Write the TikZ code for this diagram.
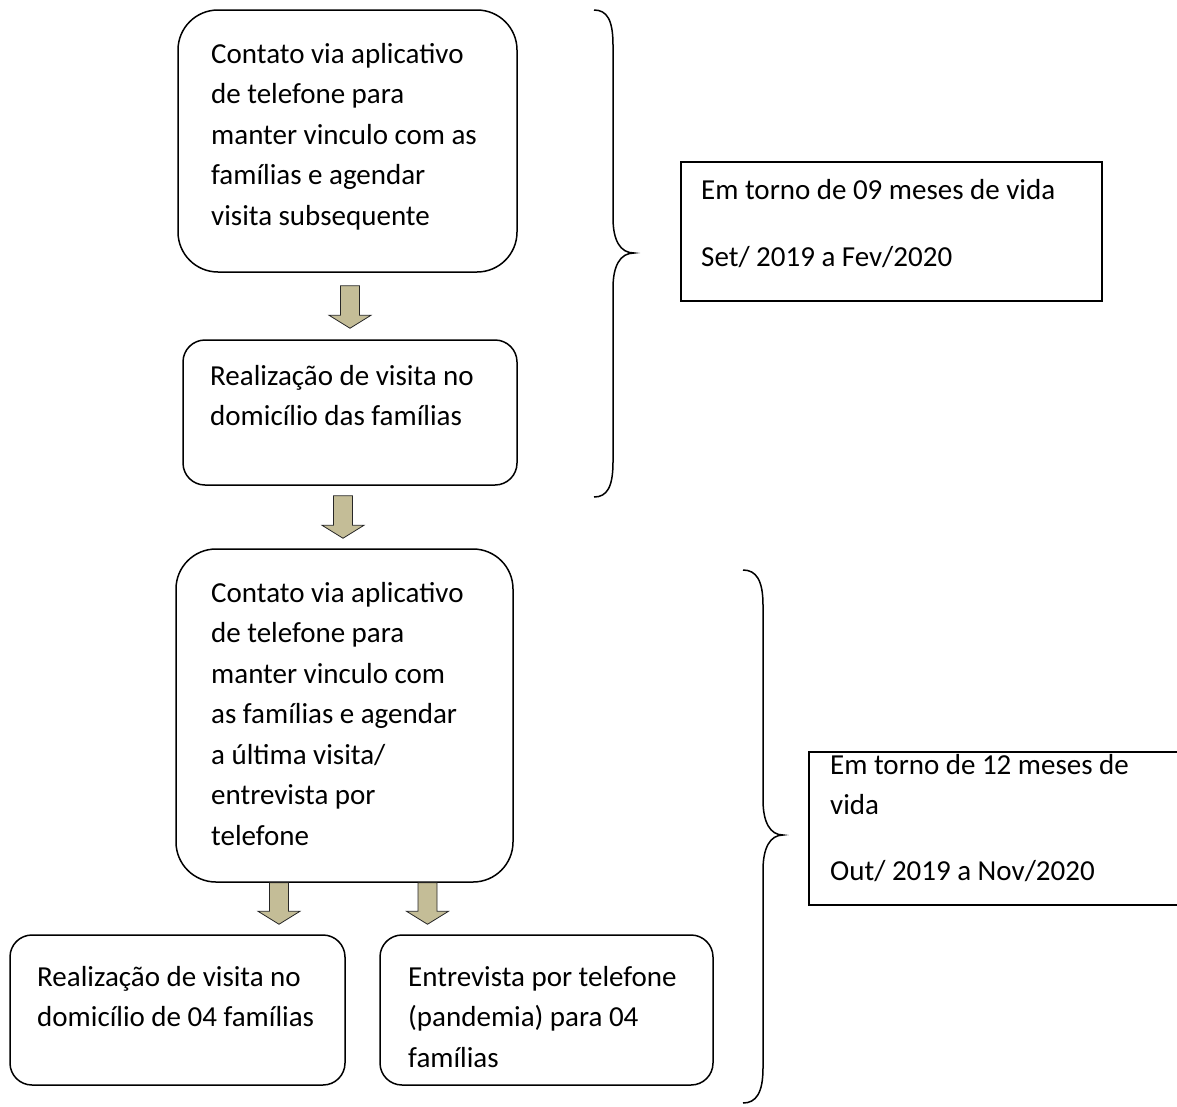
\documentclass[tikz,border=0pt]{standalone}
\usepackage{fontspec}
\setmainfont{Carlito}
\usetikzlibrary{calc}
\definecolor{arrowtan}{HTML}{C4BD97}
% fixed word spaces so the lines are never stretched
\newcommand\rigidspaces{\spaceskip=6.5pt\relax\xspaceskip=6.5pt\relax}
\tikzset{
  flowbox/.style={draw=black, line width=1.5pt, rounded corners=#1, inner sep=0pt},
  framebox/.style={draw=black, line width=1.5pt, inner sep=0pt},
  boxtext/.style={anchor=base west, inner sep=0pt, text width=#1,
    font=\fontsize{29}{40.5}\selectfont},
  boxtext/.default=320pt,
  bracepath/.style={draw=black, line width=1.5pt},
  blockarrow/.style={draw=black!85, line width=0.8pt, fill=arrowtan, line join=miter,
    to path={let \p1=(\tikztostart), \p2=(\tikztotarget) in
      ({\x1-9.5pt},\y1) -- ({\x1+9.5pt},\y1) -- ({\x1+9.5pt},{\y2+13pt})
      -- ({\x1+21pt},{\y2+13pt}) -- (\x1,\y2) -- ({\x1-21pt},{\y2+13pt})
      -- ({\x1-9.5pt},{\y2+13pt}) -- cycle}}
}
\begin{document}
\begin{tikzpicture}[x=1pt,y=-1pt]
\useasboundingbox (0,0) rectangle (1177,1106);

% flow boxes
\node[flowbox=40pt, minimum width=339pt, minimum height=262pt] (b1) at (347.5,141) {};
\node[flowbox=22pt, minimum width=334pt, minimum height=145pt] (b2) at (350,412.5) {};
\node[flowbox=40pt, minimum width=337pt, minimum height=333pt] (b3) at (344.5,715.5) {};
\node[flowbox=22pt, minimum width=335pt, minimum height=150pt] (b4) at (177.5,1010) {};
\node[flowbox=22pt, minimum width=333pt, minimum height=150pt] (b5) at (546.5,1010) {};

% box texts
\node[boxtext] (t1) at (211,63) {\rigidspaces Contato via aplicativo\\de telefone para\\manter vinculo com as\\famílias e agendar\\visita subsequente};
\node[boxtext] (t2) at (210,385) {\rigidspaces Realização de visita no\\domicílio das famílias};
\node[boxtext] (t3) at (211,602) {\rigidspaces Contato via aplicativo\\de telefone para\\manter vinculo com\\as famílias e agendar\\a última visita/\\entrevista por\\telefone};
\node[boxtext] (t4) at (37,986) {\rigidspaces Realização de visita no\\domicílio de 04 famílias};
\node[boxtext] (t5) at (408,986) {\rigidspaces Entrevista por telefone\\(pandemia) para 04\\famílias};

% period frames
\node[framebox, minimum width=421pt, minimum height=139pt] (r1) at (891.5,231.5) {};
\node[boxtext=400pt] (r1t) at (701,199) {\rigidspaces Em torno de 09 meses de vida\\[27pt]Set/ 2019 a Fev/2020};
\node[framebox, minimum width=381pt, minimum height=153pt] (r2) at (999.5,828.5) {};
\node[boxtext=320pt] (r2t) at (830,774) {\rigidspaces Em torno de 12 meses de\\vida\\[25pt]Out/ 2019 a Nov/2020};

% block arrows between boxes
\coordinate (a1s) at ($(b1.south)+(2.5,13)$);
\coordinate (a1e) at ($(a1s |- b2.north)+(0,-11)$);
\coordinate (a2s) at ($(b2.south)+(-7,10)$);
\coordinate (a2e) at ($(a2s |- b3.north)+(0,-10)$);
\coordinate (a3s) at (b3.south -| 279,0);
\coordinate (a3e) at ($(a3s |- b4.north)+(0,-10)$);
\coordinate (a4s) at (b3.south -| 427.5,0);
\coordinate (a4e) at ($(a4s |- b5.north)+(0,-10)$);
\path[blockarrow] (a1s) to (a1e);
\path[blockarrow] (a2s) to (a2e);
\path[blockarrow] (a3s) to (a3e);
\path[blockarrow] (a4s) to (a4e);

% curly braces grouping the stages
\draw[bracepath] (594,10) .. controls (607,10) and (613,20) .. (613,45)
  -- (613,218) .. controls (613,240) and (620,253) .. (634,253)
  .. controls (620,253) and (613,266) .. (613,288)
  -- (613,462) .. controls (613,487) and (607,497) .. (594,497);
\draw[bracepath] (743,570) .. controls (756,570) and (763,580) .. (763,605)
  -- (763,800) .. controls (763,822) and (770,835) .. (783,835)
  .. controls (770,835) and (763,848) .. (763,870)
  -- (763,1068) .. controls (763,1093) and (756,1103) .. (743,1103);
\end{tikzpicture}
\end{document}
